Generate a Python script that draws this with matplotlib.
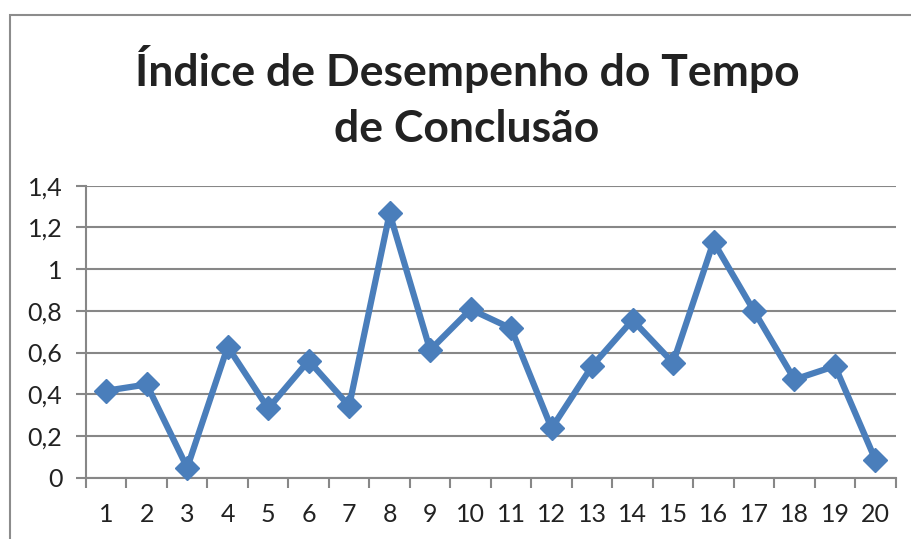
import matplotlib
matplotlib.use("Agg")
import matplotlib.pyplot as plt
from matplotlib.patches import Rectangle
from matplotlib.ticker import FixedLocator, FuncFormatter

plt.rcParams["font.family"] = ["Lato", "DejaVu Sans"]

# Dados
periodos = list(range(1, 21))
indice = [0.417, 0.447, 0.048, 0.628, 0.332, 0.561, 0.344, 1.267, 0.612, 0.807,
          0.716, 0.237, 0.535, 0.756, 0.551, 1.131, 0.799, 0.471, 0.535, 0.085]
y_ticks = [0, 0.2, 0.4, 0.6, 0.8, 1.0, 1.2, 1.4]
titulo = "Índice de Desempenho do Tempo\nde Conclusão"

W, H = 911, 539
fig = plt.figure(figsize=(W / 100, H / 100), dpi=100)

# moldura da área do gráfico (recortada)
fig.patches.append(Rectangle((10 / W, -0.1), 1.2, 1.1 - 15 / H,
                             transform=fig.transFigure, fill=False,
                             edgecolor="#8c8c8c", linewidth=1.5))

ax = fig.add_axes([86 / W, 1 - 477.7 / H, (895.7 - 86) / W, (477.7 - 185.7) / H])
grey = "#878787"
blue = "#4A7EBB"

ax.plot(periodos, indice, color=blue, linewidth=4.5, marker="D", markersize=12,
        zorder=3, clip_on=False)

ax.set_xlim(0.5, 20.5)
ax.set_ylim(0, 1.4)
ax.set_yticks(y_ticks)
ax.yaxis.set_major_formatter(FuncFormatter(lambda v, p: f"{v:g}".replace(".", ",")))
ax.set_xticks(periodos)
ax.xaxis.set_minor_locator(FixedLocator([i + 0.5 for i in range(0, 21)]))
ax.yaxis.grid(True, color=grey, linewidth=1.5)
ax.set_axisbelow(True)

for s in ["top", "right"]:
    ax.spines[s].set_visible(False)
for s in ["left", "bottom"]:
    ax.spines[s].set_color(grey)
    ax.spines[s].set_linewidth(1.5)

ax.tick_params(axis="x", which="major", length=0, pad=18, labelsize=18, colors="#222222")
ax.tick_params(axis="x", which="minor", length=7, width=1.5, color=grey, direction="out")
ax.tick_params(axis="y", which="major", length=7, width=1.5, color=grey, pad=10,
               labelsize=18, labelcolor="#222222")

fig.text(467 / W, 1 - 97 / H, titulo, ha="center", va="center", fontsize=32,
         fontweight="bold", color="#222222", linespacing=1.5)

fig.savefig("out.png", dpi=100)
